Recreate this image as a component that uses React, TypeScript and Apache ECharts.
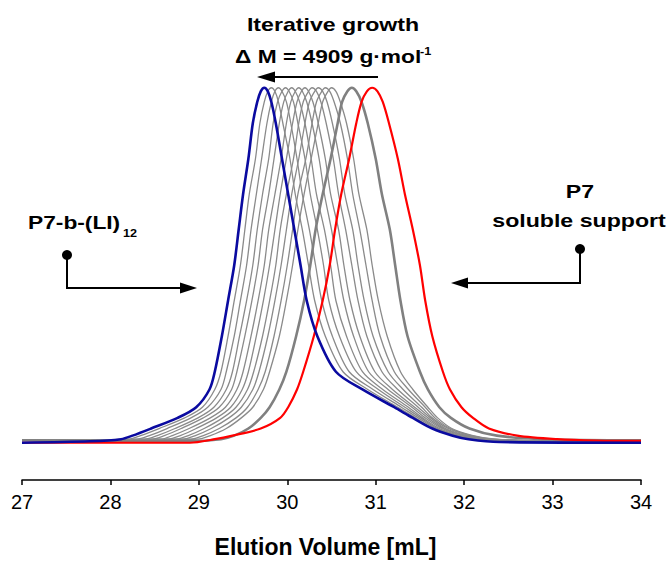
import React, { useEffect, useRef } from "react";
import * as echarts from "echarts";

const LEVELS = [0.01, 0.02, 0.04, 0.07, 0.1, 0.15, 0.2, 0.3, 0.4, 0.5, 0.6, 0.7, 0.8, 0.9, 0.96, 0.99];

const xTicks = [27, 28, 29, 30, 31, 32, 33, 34];

// P7 soluble support (red)
const redStart = [[27, 0.0], [28.9, 0.0]];
const redLeft = [29.18, 29.38, 29.7, 29.92, 30.01, 30.11, 30.18, 30.3, 30.4, 30.48, 30.54, 30.61, 30.7, 30.78, 30.84, 30.9];
const redPeak = 30.96;
const redRight = [31.02, 31.08, 31.15, 31.25, 31.33, 31.42, 31.5, 31.56, 31.64, 31.76, 31.84, 31.97, 32.1, 32.28, 32.6, 33.05];
const redEnd = [[33.5, 0.006], [34, 0.005]];

// first iteration (thick grey)
const thickStart = [[27, 0.007], [28.4, 0.004], [28.9, 0.004]];
const thickLeft = [29.25, 29.4, 29.56, 29.7, 29.8, 29.91, 29.99, 30.1, 30.19, 30.26, 30.32, 30.4, 30.49, 30.57, 30.62, 30.68];
const thickPeak = 30.73;
const thickRight = [30.78, 30.84, 30.91, 31.0, 31.07, 31.16, 31.22, 31.28, 31.36, 31.5, 31.59, 31.72, 31.85, 32.06, 32.37, 32.9];
const thickEnd = [[34, 0.007]];

// intermediate iterations (thin grey)
const thinStart = [[27, 0.007]];
const thinLeft = [
  [28.21, 28.34, 28.55, 28.84, 29.04, 29.18, 29.25, 29.33, 29.4, 29.47, 29.52, 29.57, 29.64, 29.69, 29.74, 29.78],
  [28.3, 28.44, 28.64, 28.91, 29.1, 29.25, 29.31, 29.4, 29.47, 29.54, 29.59, 29.65, 29.71, 29.77, 29.82, 29.86],
  [28.39, 28.53, 28.73, 28.99, 29.17, 29.31, 29.38, 29.46, 29.54, 29.61, 29.66, 29.72, 29.79, 29.84, 29.89, 29.94],
  [28.47, 28.61, 28.8, 29.05, 29.23, 29.37, 29.43, 29.52, 29.6, 29.67, 29.72, 29.79, 29.85, 29.91, 29.96, 30.01],
  [28.57, 28.7, 28.89, 29.13, 29.3, 29.43, 29.5, 29.59, 29.67, 29.74, 29.79, 29.86, 29.93, 29.99, 30.04, 30.09],
  [28.65, 28.79, 28.97, 29.2, 29.36, 29.49, 29.56, 29.65, 29.73, 29.8, 29.86, 29.92, 29.99, 30.06, 30.11, 30.16],
  [28.74, 28.88, 29.06, 29.27, 29.42, 29.55, 29.62, 29.72, 29.8, 29.87, 29.92, 29.99, 30.07, 30.13, 30.18, 30.24],
  [28.82, 28.96, 29.14, 29.34, 29.48, 29.61, 29.68, 29.78, 29.86, 29.93, 29.99, 30.05, 30.13, 30.2, 30.25, 30.31],
  [28.91, 29.05, 29.23, 29.42, 29.55, 29.67, 29.75, 29.85, 29.93, 30.0, 30.06, 30.12, 30.21, 30.28, 30.33, 30.39],
  [28.99, 29.13, 29.31, 29.48, 29.61, 29.73, 29.8, 29.91, 29.99, 30.06, 30.12, 30.19, 30.27, 30.35, 30.4, 30.46],
];
const thinPeaks = [29.82, 29.9, 29.98, 30.05, 30.13, 30.2, 30.28, 30.35, 30.43, 30.5];
const thinRight = [
  [29.86, 29.9, 29.95, 30.03, 30.09, 30.17, 30.24, 30.31, 30.43, 30.63, 30.91, 31.25, 31.45, 31.65, 31.89, 32.08],
  [29.94, 29.99, 30.04, 30.11, 30.17, 30.25, 30.32, 30.39, 30.51, 30.7, 30.97, 31.29, 31.48, 31.68, 31.92, 32.11],
  [30.02, 30.07, 30.12, 30.2, 30.26, 30.34, 30.41, 30.47, 30.59, 30.78, 31.03, 31.33, 31.51, 31.7, 31.94, 32.14],
  [30.09, 30.14, 30.2, 30.27, 30.33, 30.42, 30.49, 30.55, 30.67, 30.85, 31.08, 31.37, 31.53, 31.72, 31.96, 32.17],
  [30.17, 30.22, 30.28, 30.36, 30.42, 30.5, 30.57, 30.64, 30.75, 30.92, 31.14, 31.41, 31.56, 31.75, 31.99, 32.2],
  [30.24, 30.29, 30.35, 30.43, 30.49, 30.58, 30.64, 30.71, 30.82, 30.99, 31.19, 31.44, 31.59, 31.77, 32.01, 32.23],
  [30.33, 30.38, 30.44, 30.52, 30.58, 30.66, 30.73, 30.8, 30.9, 31.07, 31.25, 31.48, 31.62, 31.79, 32.03, 32.26],
  [30.4, 30.45, 30.51, 30.59, 30.65, 30.74, 30.8, 30.87, 30.97, 31.14, 31.31, 31.52, 31.64, 31.82, 32.06, 32.29],
  [30.48, 30.53, 30.6, 30.68, 30.74, 30.82, 30.89, 30.96, 31.05, 31.21, 31.37, 31.56, 31.67, 31.84, 32.08, 32.32],
  [30.55, 30.6, 30.67, 30.75, 30.81, 30.9, 30.96, 31.03, 31.13, 31.28, 31.42, 31.59, 31.7, 31.86, 32.1, 32.35],
];
const thinEnd = [[33.0, 0.005], [34, 0.005]];

// P7-b-(LI)12 (blue)
const blueStart = [[27, 0.0], [27.77, 0.004]];
const blueLeft = [28.12, 28.25, 28.46, 28.76, 28.97, 29.12, 29.18, 29.26, 29.33, 29.4, 29.45, 29.5, 29.56, 29.61, 29.66, 29.7];
const bluePeak = 29.74;
const blueRight = [29.78, 29.82, 29.87, 29.94, 30.01, 30.08, 30.15, 30.22, 30.34, 30.55, 30.85, 31.21, 31.42, 31.64, 31.87, 32.05];
const blueEnd = [[32.4, 0.002], [34, 0.0]];

function buildCurve(start: number[][], left: number[], peak: number, right: number[], end: number[][]) {
  const pts: number[][] = [];
  start.forEach((p) => pts.push(p));
  left.forEach((x, i) => pts.push([x, LEVELS[i]]));
  pts.push([peak, 1]);
  right.forEach((x, i) => pts.push([x, LEVELS[LEVELS.length - 1 - i]]));
  end.forEach((p) => pts.push(p));
  return pts;
}

const FONT = "Liberation Sans, Arial, Helvetica, sans-serif";

export default function App() {
  const ref = useRef<HTMLDivElement>(null);
  useEffect(() => {
    if (!ref.current) return;
    const chart = echarts.init(ref.current, null, { renderer: "svg" });
    const lineBase = { type: "line", showSymbol: false, symbol: "none", smooth: 0.3, clip: false };
    const series: any[] = [];
    thinLeft.forEach((l, k) => {
      series.push({
        ...lineBase,
        name: "LI " + (k + 2),
        data: buildCurve(thinStart, l, thinPeaks[k], thinRight[k], thinEnd),
        lineStyle: { color: "#8a8a8a", width: 1.3 },
        z: 2,
      });
    });
    series.push({
      ...lineBase,
      name: "LI 1",
      data: buildCurve(thickStart, thickLeft, thickPeak, thickRight, thickEnd),
      lineStyle: { color: "#808080", width: 2.6 },
      z: 3,
    });
    series.push({
      ...lineBase,
      name: "P7",
      data: buildCurve(redStart, redLeft, redPeak, redRight, redEnd),
      lineStyle: { color: "#ff0000", width: 2.2 },
      z: 4,
    });
    series.push({
      ...lineBase,
      name: "P7-b-(LI)12",
      data: buildCurve(blueStart, blueLeft, bluePeak, blueRight, blueEnd),
      lineStyle: { color: "#0a0aa0", width: 2.6 },
      z: 5,
    });

    const txt = (x: number, y: number, text: string, size: number, align = "center", sx = 1.25) => ({
      type: "text",
      x,
      y,
      scaleX: sx,
      style: {
        text,
        fontSize: size,
        fontWeight: "bold",
        fontFamily: FONT,
        fill: "#000",
        textAlign: align,
        align,
        textVerticalAlign: "middle",
        verticalAlign: "middle",
      },
    });

    const graphic: any[] = [
      txt(333, 24, "Iterative growth", 18.5),
      txt(235, 56, "Δ M = 4909 g·mol", 18.5, "left", 1.23),
      txt(420, 51, "-1", 11, "left", 1.15),
      { type: "line", shape: { x1: 270, y1: 77, x2: 378, y2: 77 }, style: { stroke: "#000", lineWidth: 2 } },
      { type: "polygon", shape: { points: [[257, 77], [275, 71.5], [275, 82.5]] }, style: { fill: "#000" } },
      txt(28, 222, "P7-b-(LI)", 18.5, "left", 1.23),
      txt(123, 233, "12", 10.5, "left", 1.2),
      { type: "circle", shape: { cx: 67, cy: 255, r: 5 }, style: { fill: "#000" } },
      { type: "polyline", shape: { points: [[67, 255], [67, 288], [185, 288]] }, style: { stroke: "#000", lineWidth: 2, fill: null } },
      { type: "polygon", shape: { points: [[197, 288], [180, 282.5], [180, 293.5]] }, style: { fill: "#000" } },
      txt(580, 191, "P7", 18.5),
      txt(579, 220, "soluble support", 18.5),
      { type: "circle", shape: { cx: 580, cy: 249, r: 5 }, style: { fill: "#000" } },
      { type: "polyline", shape: { points: [[580, 249], [580, 283], [462, 283]] }, style: { stroke: "#000", lineWidth: 2, fill: null } },
      { type: "polygon", shape: { points: [[451, 283], [468, 277.5], [468, 288.5]] }, style: { fill: "#000" } },
    ];

    chart.setOption({
      animation: false,
      grid: { left: 22, right: 29, top: 70, bottom: 76, containLabel: false },
      xAxis: {
        type: "value",
        min: 27,
        max: 34,
        interval: 1,
        data: xTicks,
        name: "Elution Volume [mL]",
        nameLocation: "middle",
        nameGap: 55,
        nameTextStyle: { fontFamily: FONT, fontWeight: "bold", fontSize: 23, color: "#000", padding: [0, 12, 0, 0] },
        axisLine: { onZero: false, lineStyle: { color: "#000", width: 1.5 } },
        axisTick: { show: true, inside: false, length: 5, lineStyle: { color: "#000", width: 1.5 } },
        axisLabel: { fontFamily: FONT, fontSize: 20, color: "#000", margin: 12 },
        splitLine: { show: false },
      },
      yAxis: {
        type: "value",
        min: -0.105,
        max: 1.05,
        show: false,
        splitLine: { show: false },
      },
      series,
      graphic,
    });
    return () => chart.dispose();
  }, []);
  return <div ref={ref} style={{ position: "absolute", left: 0, top: 0, width: 670, height: 563 }} />;
}
